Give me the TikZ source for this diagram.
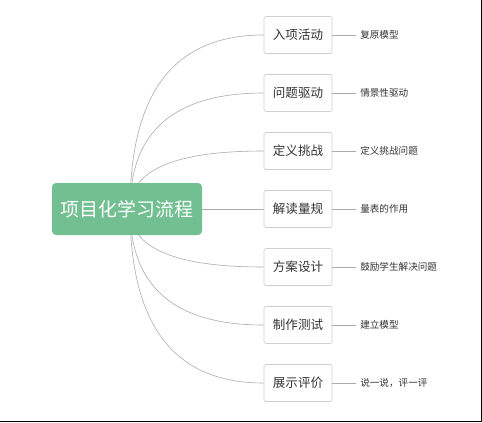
\documentclass[tikz,border=0pt]{standalone}
\usepackage{fontspec}
\usepackage{tikz}
\usepackage{xcolor}
\usetikzlibrary{backgrounds,calc}
\newfontfamily\cjk{Noto Sans CJK SC}

\definecolor{rootgreen}{HTML}{72BF91}
\definecolor{boxgray}{HTML}{CFCFCF}
\definecolor{linegray}{HTML}{ABABAB}
\definecolor{textgray}{HTML}{333333}

\tikzset{
    rootbox/.style={draw=none, fill=rootgreen, rounded corners=3pt, minimum width=112.5pt,
        minimum height=39pt, inner sep=0pt, text=white, font=\cjk\fontsize{14.2pt}{16pt}\selectfont},
    stagebox/.style={draw=boxgray, line width=0.5pt, fill=white, rounded corners=1.5pt,
        minimum width=51pt, minimum height=27.75pt, inner sep=0pt, text=textgray,
        font=\cjk\fontsize{9.4pt}{11pt}\selectfont},
    notelabel/.style={anchor=west, inner sep=3pt, text=textgray, font=\cjk\fontsize{7.2pt}{9pt}\selectfont},
    branch/.style={draw=linegray, line width=0.45pt},
}

\begin{document}
\begin{tikzpicture}[x=0.75pt, y=-0.75pt]
    \useasboundingbox (0,0) rectangle (482,422);
    % frame edges
    \fill[black] (0,420.6) rectangle (482,422);
    \fill[black] (480.6,0) rectangle (482,422);

    % root
    \node[rootbox] (root) at (127,209) {项目化学习流程};
    \coordinate (hub) at (130,209);

    % stages
    \node[stagebox] (s1) at (298,35) {入项活动};
    \node[stagebox] (s2) at (298,93) {问题驱动};
    \node[stagebox] (s3) at (298,151) {定义挑战};
    \node[stagebox] (s4) at (298,209) {解读量规};
    \node[stagebox] (s5) at (298,267) {方案设计};
    \node[stagebox] (s6) at (298,325) {制作测试};
    \node[stagebox] (s7) at (298,383) {展示评价};

    % notes
    \node[notelabel] (n1) at (356,35) {复原模型};
    \node[notelabel] (n2) at (356,93) {情景性驱动};
    \node[notelabel] (n3) at (356,151) {定义挑战问题};
    \node[notelabel] (n4) at (356,209) {量表的作用};
    \node[notelabel] (n5) at (356,267) {鼓励学生解决问题};
    \node[notelabel] (n6) at (356,325) {建立模型};
    \node[notelabel] (n7) at (356,383) {说一说，评一评};

    % branches from the root (behind the boxes)
    \begin{scope}[on background layer]
        \draw[branch] (hub) .. controls ($(hub)!0.67!(hub |- s1.west)$) and ($(s1.west)!0.67!(hub |- s1.west)$) .. (s1.west);
        \draw[branch] (hub) .. controls ($(hub)!0.67!(hub |- s2.west)$) and ($(s2.west)!0.67!(hub |- s2.west)$) .. (s2.west);
        \draw[branch] (hub) .. controls ($(hub)!0.67!(hub |- s3.west)$) and ($(s3.west)!0.67!(hub |- s3.west)$) .. (s3.west);
        \draw[branch] (root.east) -- (s4.west);
        \draw[branch] (hub) .. controls ($(hub)!0.67!(hub |- s5.west)$) and ($(s5.west)!0.67!(hub |- s5.west)$) .. (s5.west);
        \draw[branch] (hub) .. controls ($(hub)!0.67!(hub |- s6.west)$) and ($(s6.west)!0.67!(hub |- s6.west)$) .. (s6.west);
        \draw[branch] (hub) .. controls ($(hub)!0.67!(hub |- s7.west)$) and ($(s7.west)!0.67!(hub |- s7.west)$) .. (s7.west);
    \end{scope}

    % stage to note
    \draw[branch] (s1.east) -- (n1.west);
    \draw[branch] (s2.east) -- (n2.west);
    \draw[branch] (s3.east) -- (n3.west);
    \draw[branch] (s4.east) -- (n4.west);
    \draw[branch] (s5.east) -- (n5.west);
    \draw[branch] (s6.east) -- (n6.west);
    \draw[branch] (s7.east) -- (n7.west);
\end{tikzpicture}
\end{document}
